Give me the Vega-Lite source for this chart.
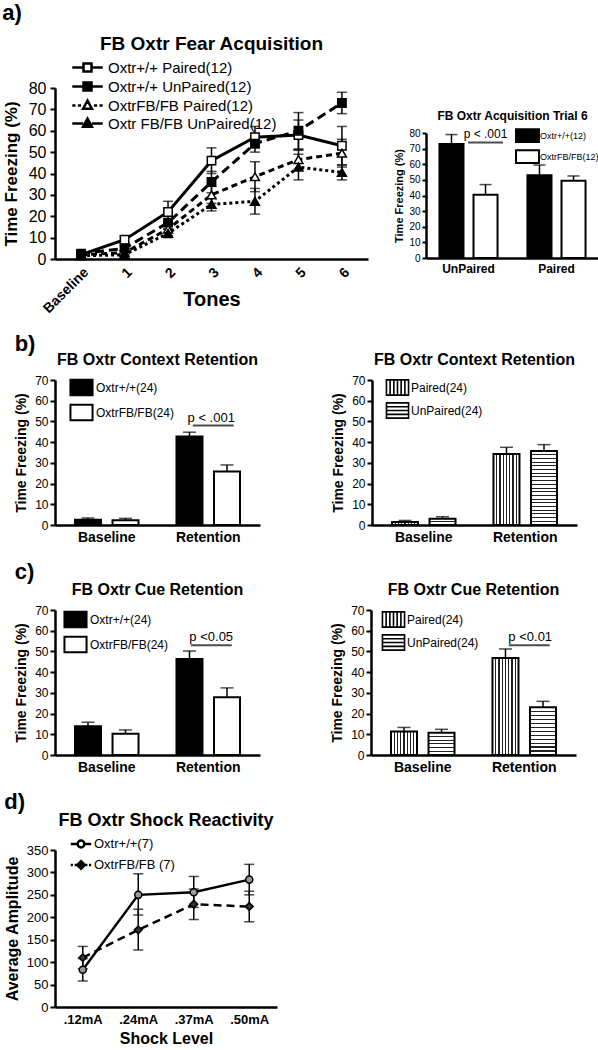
{
"$schema": "https://vega.github.io/schema/vega-lite/v6.json",
"padding": {"left": 2, "top": 2, "right": 0, "bottom": 0},
"background": "white",
"params": [
 {"name": "gV8", "value": {"gradient":"linear","x1":0,"y1":0,"x2":1,"y2":0,"stops":[{"offset":0,"color":"#fff"},{"offset":0.103,"color":"#fff"},{"offset":0.103,"color":"#222"},{"offset":0.147,"color":"#222"},{"offset":0.147,"color":"#fff"},{"offset":0.228,"color":"#fff"},{"offset":0.228,"color":"#222"},{"offset":0.272,"color":"#222"},{"offset":0.272,"color":"#fff"},{"offset":0.353,"color":"#fff"},{"offset":0.353,"color":"#222"},{"offset":0.397,"color":"#222"},{"offset":0.397,"color":"#fff"},{"offset":0.478,"color":"#fff"},{"offset":0.478,"color":"#222"},{"offset":0.522,"color":"#222"},{"offset":0.522,"color":"#fff"},{"offset":0.603,"color":"#fff"},{"offset":0.603,"color":"#222"},{"offset":0.647,"color":"#222"},{"offset":0.647,"color":"#fff"},{"offset":0.728,"color":"#fff"},{"offset":0.728,"color":"#222"},{"offset":0.772,"color":"#222"},{"offset":0.772,"color":"#fff"},{"offset":0.853,"color":"#fff"},{"offset":0.853,"color":"#222"},{"offset":0.897,"color":"#222"},{"offset":0.897,"color":"#fff"},{"offset":1,"color":"#fff"}]}},
 {"name": "gH20", "value": {"gradient":"linear","x1":0,"y1":0,"x2":0,"y2":1,"stops":[{"offset":0,"color":"#fff"},{"offset":0.043,"color":"#fff"},{"offset":0.043,"color":"#222"},{"offset":0.057,"color":"#222"},{"offset":0.057,"color":"#fff"},{"offset":0.093,"color":"#fff"},{"offset":0.093,"color":"#222"},{"offset":0.107,"color":"#222"},{"offset":0.107,"color":"#fff"},{"offset":0.143,"color":"#fff"},{"offset":0.143,"color":"#222"},{"offset":0.157,"color":"#222"},{"offset":0.157,"color":"#fff"},{"offset":0.193,"color":"#fff"},{"offset":0.193,"color":"#222"},{"offset":0.207,"color":"#222"},{"offset":0.207,"color":"#fff"},{"offset":0.243,"color":"#fff"},{"offset":0.243,"color":"#222"},{"offset":0.257,"color":"#222"},{"offset":0.257,"color":"#fff"},{"offset":0.293,"color":"#fff"},{"offset":0.293,"color":"#222"},{"offset":0.307,"color":"#222"},{"offset":0.307,"color":"#fff"},{"offset":0.343,"color":"#fff"},{"offset":0.343,"color":"#222"},{"offset":0.357,"color":"#222"},{"offset":0.357,"color":"#fff"},{"offset":0.393,"color":"#fff"},{"offset":0.393,"color":"#222"},{"offset":0.407,"color":"#222"},{"offset":0.407,"color":"#fff"},{"offset":0.443,"color":"#fff"},{"offset":0.443,"color":"#222"},{"offset":0.457,"color":"#222"},{"offset":0.457,"color":"#fff"},{"offset":0.493,"color":"#fff"},{"offset":0.493,"color":"#222"},{"offset":0.507,"color":"#222"},{"offset":0.507,"color":"#fff"},{"offset":0.543,"color":"#fff"},{"offset":0.543,"color":"#222"},{"offset":0.557,"color":"#222"},{"offset":0.557,"color":"#fff"},{"offset":0.593,"color":"#fff"},{"offset":0.593,"color":"#222"},{"offset":0.607,"color":"#222"},{"offset":0.607,"color":"#fff"},{"offset":0.643,"color":"#fff"},{"offset":0.643,"color":"#222"},{"offset":0.657,"color":"#222"},{"offset":0.657,"color":"#fff"},{"offset":0.693,"color":"#fff"},{"offset":0.693,"color":"#222"},{"offset":0.707,"color":"#222"},{"offset":0.707,"color":"#fff"},{"offset":0.743,"color":"#fff"},{"offset":0.743,"color":"#222"},{"offset":0.757,"color":"#222"},{"offset":0.757,"color":"#fff"},{"offset":0.793,"color":"#fff"},{"offset":0.793,"color":"#222"},{"offset":0.807,"color":"#222"},{"offset":0.807,"color":"#fff"},{"offset":0.843,"color":"#fff"},{"offset":0.843,"color":"#222"},{"offset":0.857,"color":"#222"},{"offset":0.857,"color":"#fff"},{"offset":0.893,"color":"#fff"},{"offset":0.893,"color":"#222"},{"offset":0.907,"color":"#222"},{"offset":0.907,"color":"#fff"},{"offset":0.943,"color":"#fff"},{"offset":0.943,"color":"#222"},{"offset":0.957,"color":"#222"},{"offset":0.957,"color":"#fff"},{"offset":1,"color":"#fff"}]}},
 {"name": "gH12", "value": {"gradient":"linear","x1":0,"y1":0,"x2":0,"y2":1,"stops":[{"offset":0,"color":"#fff"},{"offset":0.071,"color":"#fff"},{"offset":0.071,"color":"#222"},{"offset":0.095,"color":"#222"},{"offset":0.095,"color":"#fff"},{"offset":0.155,"color":"#fff"},{"offset":0.155,"color":"#222"},{"offset":0.179,"color":"#222"},{"offset":0.179,"color":"#fff"},{"offset":0.238,"color":"#fff"},{"offset":0.238,"color":"#222"},{"offset":0.262,"color":"#222"},{"offset":0.262,"color":"#fff"},{"offset":0.321,"color":"#fff"},{"offset":0.321,"color":"#222"},{"offset":0.345,"color":"#222"},{"offset":0.345,"color":"#fff"},{"offset":0.405,"color":"#fff"},{"offset":0.405,"color":"#222"},{"offset":0.429,"color":"#222"},{"offset":0.429,"color":"#fff"},{"offset":0.488,"color":"#fff"},{"offset":0.488,"color":"#222"},{"offset":0.512,"color":"#222"},{"offset":0.512,"color":"#fff"},{"offset":0.571,"color":"#fff"},{"offset":0.571,"color":"#222"},{"offset":0.595,"color":"#222"},{"offset":0.595,"color":"#fff"},{"offset":0.655,"color":"#fff"},{"offset":0.655,"color":"#222"},{"offset":0.679,"color":"#222"},{"offset":0.679,"color":"#fff"},{"offset":0.738,"color":"#fff"},{"offset":0.738,"color":"#222"},{"offset":0.762,"color":"#222"},{"offset":0.762,"color":"#fff"},{"offset":0.821,"color":"#fff"},{"offset":0.821,"color":"#222"},{"offset":0.845,"color":"#222"},{"offset":0.845,"color":"#fff"},{"offset":0.905,"color":"#fff"},{"offset":0.905,"color":"#222"},{"offset":0.929,"color":"#222"},{"offset":0.929,"color":"#fff"},{"offset":1,"color":"#fff"}]}},
 {"name": "gH6", "value": {"gradient":"linear","x1":0,"y1":0,"x2":0,"y2":1,"stops":[{"offset":0,"color":"#fff"},{"offset":0.142,"color":"#fff"},{"offset":0.142,"color":"#222"},{"offset":0.192,"color":"#222"},{"offset":0.192,"color":"#fff"},{"offset":0.308,"color":"#fff"},{"offset":0.308,"color":"#222"},{"offset":0.358,"color":"#222"},{"offset":0.358,"color":"#fff"},{"offset":0.475,"color":"#fff"},{"offset":0.475,"color":"#222"},{"offset":0.525,"color":"#222"},{"offset":0.525,"color":"#fff"},{"offset":0.642,"color":"#fff"},{"offset":0.642,"color":"#222"},{"offset":0.692,"color":"#222"},{"offset":0.692,"color":"#fff"},{"offset":0.808,"color":"#fff"},{"offset":0.808,"color":"#222"},{"offset":0.858,"color":"#222"},{"offset":0.858,"color":"#fff"},{"offset":1,"color":"#fff"}]}},
 {"name": "gH2", "value": {"gradient":"linear","x1":0,"y1":0,"x2":0,"y2":1,"stops":[{"offset":0,"color":"#fff"},{"offset":0.41,"color":"#fff"},{"offset":0.41,"color":"#222"},{"offset":0.59,"color":"#222"},{"offset":0.59,"color":"#fff"},{"offset":1,"color":"#fff"}]}}
],
"config": {
 "font": "Liberation Sans",
 "view": {"stroke": null},
 "axis": {"domainColor": "black", "domainWidth": 2.5, "tickColor": "black", "tickWidth": 2, "tickSize": 5, "labelColor": "black", "titleColor": "black", "grid": false, "labelFont": "Liberation Sans", "titleFont": "Liberation Sans", "titleFontWeight": "bold", "labelOverlap": false},
 "title": {"font": "Liberation Sans", "fontWeight": "bold", "color": "black", "anchor": "middle"},
 "legend": {"labelFont": "Liberation Sans", "labelColor": "black"}
},
"resolve": {"scale": {"fill": "independent", "shape": "independent", "strokeDash": "independent", "xOffset": "independent"}},
"spacing": 17,
"vconcat": [
 {
  "title": {"text": "a)", "anchor": "start", "frame": "bounds", "fontSize": 22, "offset": 10},
  "spacing": 25,
  "resolve": {"scale": {"fill": "independent", "shape": "independent", "strokeDash": "independent", "xOffset": "independent"}},
  "hconcat": [
   {
    "width": 313, "height": 171,
    "title": {"text": "FB Oxtr Fear Acquisition", "fontSize": 19, "frame": "group", "offset": 4},
    "data": {"values": [
     {"g":"Oxtr+/+ Paired(12)","t":"Baseline","m":2,"lo":1,"hi":3},
     {"g":"Oxtr+/+ Paired(12)","t":"1","m":9,"lo":7.5,"hi":10.5},
     {"g":"Oxtr+/+ Paired(12)","t":"2","m":22,"lo":17,"hi":27},
     {"g":"Oxtr+/+ Paired(12)","t":"3","m":46,"lo":40,"hi":52},
     {"g":"Oxtr+/+ Paired(12)","t":"4","m":57,"lo":52,"hi":62},
     {"g":"Oxtr+/+ Paired(12)","t":"5","m":58,"lo":51,"hi":65},
     {"g":"Oxtr+/+ Paired(12)","t":"6","m":53,"lo":44,"hi":62},
     {"g":"Oxtr+/+ UnPaired(12)","t":"Baseline","m":2.5,"lo":1.5,"hi":3.5},
     {"g":"Oxtr+/+ UnPaired(12)","t":"1","m":5,"lo":4,"hi":6},
     {"g":"Oxtr+/+ UnPaired(12)","t":"2","m":17,"lo":14,"hi":20},
     {"g":"Oxtr+/+ UnPaired(12)","t":"3","m":36,"lo":31,"hi":41},
     {"g":"Oxtr+/+ UnPaired(12)","t":"4","m":54,"lo":50,"hi":58},
     {"g":"Oxtr+/+ UnPaired(12)","t":"5","m":60,"lo":51.5,"hi":68.5},
     {"g":"Oxtr+/+ UnPaired(12)","t":"6","m":73,"lo":68,"hi":78},
     {"g":"OxtrFB/FB Paired(12)","t":"Baseline","m":2,"lo":1.5,"hi":2.5},
     {"g":"OxtrFB/FB Paired(12)","t":"1","m":3,"lo":2,"hi":4},
     {"g":"OxtrFB/FB Paired(12)","t":"2","m":14,"lo":11,"hi":17},
     {"g":"OxtrFB/FB Paired(12)","t":"3","m":30,"lo":26,"hi":34},
     {"g":"OxtrFB/FB Paired(12)","t":"4","m":38.5,"lo":31.5,"hi":45.5},
     {"g":"OxtrFB/FB Paired(12)","t":"5","m":46.5,"lo":42,"hi":51},
     {"g":"OxtrFB/FB Paired(12)","t":"6","m":49.5,"lo":43,"hi":56},
     {"g":"Oxtr FB/FB UnPaired(12)","t":"Baseline","m":1.5,"lo":1,"hi":2},
     {"g":"Oxtr FB/FB UnPaired(12)","t":"1","m":2,"lo":1,"hi":3},
     {"g":"Oxtr FB/FB UnPaired(12)","t":"2","m":12,"lo":10,"hi":14},
     {"g":"Oxtr FB/FB UnPaired(12)","t":"3","m":25.5,"lo":22.5,"hi":28.5},
     {"g":"Oxtr FB/FB UnPaired(12)","t":"4","m":27,"lo":21,"hi":33},
     {"g":"Oxtr FB/FB UnPaired(12)","t":"5","m":43,"lo":37,"hi":49},
     {"g":"Oxtr FB/FB UnPaired(12)","t":"6","m":40.5,"lo":37,"hi":44}
    ]},
    "encoding": {
     "x": {"field": "t", "type": "ordinal", "sort": ["Baseline","1","2","3","4","5","6"], "scale": {"type": "point", "padding": 0.6},
       "axis": {"title": "Tones", "labelAngle": -45, "labelFontSize": 14, "labelFontWeight": "bold", "titleFontSize": 20, "ticks": false, "labelPadding": 6, "titleY": 30, "titleBaseline": "top"}}
    },
    "layer": [
     {"transform": [{"filter": "datum.g === 'Oxtr+/+ Paired(12)'"}],
      "mark": {"type": "line", "strokeWidth": 3, "color": "black"},
      "encoding": {"y": {"field": "m", "type": "quantitative", "scale": {"domain": [0, 80]}, "axis": {"title": "Time Freezing (%)", "titleFontSize": 17, "labelFontSize": 16, "values": [0,10,20,30,40,50,60,70,80], "titlePadding": 8, "labelPadding": 4}}}},
     {"transform": [{"filter": "datum.g === 'Oxtr+/+ UnPaired(12)'"}],
      "mark": {"type": "line", "strokeWidth": 3, "color": "black", "strokeDash": [9,5]},
      "encoding": {"y": {"field": "m", "type": "quantitative", "axis": {"title": "Time Freezing (%)", "titleFontSize": 17, "labelFontSize": 16, "values": [0,10,20,30,40,50,60,70,80], "titlePadding": 8, "labelPadding": 4}}}},
     {"transform": [{"filter": "datum.g === 'OxtrFB/FB Paired(12)'"}],
      "mark": {"type": "line", "strokeWidth": 3, "color": "black", "strokeDash": [6,4]},
      "encoding": {"y": {"field": "m", "type": "quantitative", "axis": {"title": "Time Freezing (%)", "titleFontSize": 17, "labelFontSize": 16, "values": [0,10,20,30,40,50,60,70,80], "titlePadding": 8, "labelPadding": 4}}}},
     {"transform": [{"filter": "datum.g === 'Oxtr FB/FB UnPaired(12)'"}],
      "mark": {"type": "line", "strokeWidth": 3, "color": "black", "strokeDash": [3,3]},
      "encoding": {"y": {"field": "m", "type": "quantitative", "axis": {"title": "Time Freezing (%)", "titleFontSize": 17, "labelFontSize": 16, "values": [0,10,20,30,40,50,60,70,80], "titlePadding": 8, "labelPadding": 4}}}},
     {"mark": {"type": "rule", "strokeWidth": 1.5, "color": "black"},
      "encoding": {"y": {"field": "lo", "type": "quantitative", "axis": {"title": "Time Freezing (%)", "titleFontSize": 17, "labelFontSize": 16, "values": [0,10,20,30,40,50,60,70,80], "titlePadding": 8, "labelPadding": 4}}, "y2": {"field": "hi"}, "detail": {"field": "g"}}},
     {"mark": {"type": "tick", "orient": "horizontal", "size": 10, "thickness": 1.5, "color": "black"},
      "encoding": {"y": {"field": "lo", "type": "quantitative", "axis": {"title": "Time Freezing (%)", "titleFontSize": 17, "labelFontSize": 16, "values": [0,10,20,30,40,50,60,70,80], "titlePadding": 8, "labelPadding": 4}}}},
     {"mark": {"type": "tick", "orient": "horizontal", "size": 10, "thickness": 1.5, "color": "black"},
      "encoding": {"y": {"field": "hi", "type": "quantitative", "axis": {"title": "Time Freezing (%)", "titleFontSize": 17, "labelFontSize": 16, "values": [0,10,20,30,40,50,60,70,80], "titlePadding": 8, "labelPadding": 4}}}},
     {"transform": [{"filter": "datum.g === 'Oxtr+/+ Paired(12)'"}],
      "mark": {"type": "point", "shape": "square", "filled": true, "fill": "white", "stroke": "black", "strokeWidth": 1.5, "size": 70, "opacity": 1},
      "encoding": {"y": {"field": "m", "type": "quantitative", "axis": {"title": "Time Freezing (%)", "titleFontSize": 17, "labelFontSize": 16, "values": [0,10,20,30,40,50,60,70,80], "titlePadding": 8, "labelPadding": 4}}}},
     {"transform": [{"filter": "datum.g === 'Oxtr+/+ UnPaired(12)'"}],
      "mark": {"type": "point", "shape": "square", "filled": true, "fill": "black", "stroke": "black", "strokeWidth": 1.5, "size": 70, "opacity": 1},
      "encoding": {"y": {"field": "m", "type": "quantitative", "axis": {"title": "Time Freezing (%)", "titleFontSize": 17, "labelFontSize": 16, "values": [0,10,20,30,40,50,60,70,80], "titlePadding": 8, "labelPadding": 4}}}},
     {"transform": [{"filter": "datum.g === 'OxtrFB/FB Paired(12)'"}],
      "mark": {"type": "point", "shape": "triangle-up", "filled": true, "fill": "white", "stroke": "black", "strokeWidth": 1.5, "size": 80, "opacity": 1},
      "encoding": {"y": {"field": "m", "type": "quantitative", "axis": {"title": "Time Freezing (%)", "titleFontSize": 17, "labelFontSize": 16, "values": [0,10,20,30,40,50,60,70,80], "titlePadding": 8, "labelPadding": 4}}}},
     {"transform": [{"filter": "datum.g === 'Oxtr FB/FB UnPaired(12)'"}],
      "mark": {"type": "point", "shape": "triangle-up", "filled": true, "fill": "black", "stroke": "black", "strokeWidth": 1.5, "size": 80, "opacity": 1},
      "encoding": {"y": {"field": "m", "type": "quantitative", "axis": {"title": "Time Freezing (%)", "titleFontSize": 17, "labelFontSize": 16, "values": [0,10,20,30,40,50,60,70,80], "titlePadding": 8, "labelPadding": 4}}}},
     {"mark": {"type": "point", "size": 10, "opacity": 0},
      "encoding": {
       "y": {"field": "m", "type": "quantitative", "axis": {"title": "Time Freezing (%)", "titleFontSize": 17, "labelFontSize": 16, "values": [0,10,20,30,40,50,60,70,80], "titlePadding": 8, "labelPadding": 4}},
       "shape": {"field": "g", "type": "nominal", "scale": {"domain": ["Oxtr+/+ Paired(12)","Oxtr+/+ UnPaired(12)","OxtrFB/FB Paired(12)","Oxtr FB/FB UnPaired(12)"], "range": ["M-1.9,0H-0.5M0.5,0H1.9M-0.5,-0.5H0.5V0.5H-0.5Z","M-1.9,0H-0.5M0.5,0H1.9M-0.5,-0.5H0.5V0.5H-0.5ZM-0.5,-0.25H0.5M-0.5,0H0.5M-0.5,0.25H0.5","M-1.9,0H-1.5M-1.2,0H-0.8M0.8,0H1.2M1.5,0H1.9M0,-0.6L0.55,0.4H-0.55Z","M-1.9,0H-0.55M0.55,0H1.9M0,-0.6L0.55,0.4H-0.55ZM-0.165,-0.3H0.165M-0.3,-0.05H0.3M-0.44,0.2H0.44"]},
        "legend": {"title": null, "orient": "none", "legendX": 23, "legendY": -30, "labelFontSize": 15, "labelLimit": 320, "symbolSize": 256, "symbolStrokeWidth": 2.5, "symbolStrokeColor": "black", "symbolFillColor": "white", "symbolOpacity": 1, "labelOffset": 11, "rowPadding": -3}}
      }}
    ]
   },
   {
    "spacing": 0,
    "resolve": {"scale": {"fill": "independent", "shape": "independent", "strokeDash": "independent", "xOffset": "independent"}},
    "vconcat": [
     {"width": 173, "height": 22, "data": {"values": [{}]}, "mark": {"type": "text", "text": ""}, "encoding": {}},
     {
      "width": 173, "height": 125,
      "title": {"text": "FB  Oxtr Acquisition Trial 6", "fontSize": 12, "offset": 3},
      "data": {"values": [
       {"c":"UnPaired","g":"Oxtr+/+(12)","m":73,"hi":79},
       {"c":"UnPaired","g":"OxtrFB/FB(12)","m":40.5,"hi":47},
       {"c":"Paired","g":"Oxtr+/+(12)","m":53,"hi":59.5},
       {"c":"Paired","g":"OxtrFB/FB(12)","m":49.5,"hi":52.5}
      ]},
      "encoding": {
       "x": {"field": "c", "type": "nominal", "sort": ["UnPaired","Paired"], "scale": {"paddingInner": 0.34, "paddingOuter": 0.153},
        "axis": {"title": null, "labelAngle": 0, "ticks": false, "labelFontSize": 12, "labelFontWeight": "bold", "labelPadding": 5}},
       "xOffset": {"field": "g", "type": "nominal", "sort": ["Oxtr+/+(12)","OxtrFB/FB(12)"], "scale": {"paddingInner": 0.294, "paddingOuter": 0}}
      },
      "layer": [
       {"mark": {"type": "bar", "stroke": "black", "strokeWidth": 2},
        "encoding": {
         "y": {"field": "m", "type": "quantitative", "scale": {"domain": [0, 80]}, "axis": {"title": "Time Freezing (%)", "titleFontSize": 11, "labelFontSize": 10, "values": [0,10,20,30,40,50,60,70,80], "tickSize": 4, "titlePadding": 4, "labelPadding": 2}},
         "fill": {"field": "g", "type": "nominal", "sort": ["Oxtr+/+(12)","OxtrFB/FB(12)"], "scale": {"range": ["black","white"]},
          "legend": {"title": null, "orient": "none", "legendX": 92, "legendY": -7, "labelFontSize": 9, "symbolSize": 289, "symbolType": "M-1.35,-0.75H1.35V0.75H-1.35Z", "symbolStrokeColor": "black", "symbolStrokeWidth": 2, "labelOffset": 3, "rowPadding": 0}}
        }},
       {"mark": {"type": "rule", "strokeWidth": 1.5, "color": "black"},
        "encoding": {"y": {"field": "m", "type": "quantitative", "axis": {"title": "Time Freezing (%)", "titleFontSize": 11, "labelFontSize": 10, "values": [0,10,20,30,40,50,60,70,80], "tickSize": 4, "titlePadding": 4, "labelPadding": 2}}, "y2": {"field": "hi"}}},
       {"mark": {"type": "tick", "orient": "horizontal", "size": 12, "thickness": 1.5, "color": "black"},
        "encoding": {"y": {"field": "hi", "type": "quantitative", "axis": {"title": "Time Freezing (%)", "titleFontSize": 11, "labelFontSize": 10, "values": [0,10,20,30,40,50,60,70,80], "tickSize": 4, "titlePadding": 4, "labelPadding": 2}}}},
       {"data": {"values": [{"c":"UnPaired","g":"OxtrFB/FB(12)","y":74,"label":"p < .001"}]},
        "layer": [
         {"mark": {"type": "tick", "orient": "horizontal", "size": 35, "thickness": 2, "color": "black"},
          "encoding": {"y": {"field": "y", "type": "quantitative", "axis": {"title": "Time Freezing (%)", "titleFontSize": 11, "labelFontSize": 10, "values": [0,10,20,30,40,50,60,70,80], "tickSize": 4, "titlePadding": 4, "labelPadding": 2}}}},
         {"mark": {"type": "text", "fontSize": 12, "baseline": "bottom", "dy": -1, "color": "black"},
          "encoding": {"y": {"field": "y", "type": "quantitative", "axis": {"title": "Time Freezing (%)", "titleFontSize": 11, "labelFontSize": 10, "values": [0,10,20,30,40,50,60,70,80], "tickSize": 4, "titlePadding": 4, "labelPadding": 2}}, "text": {"field": "label"}}}
        ]}
      ]
     }
    ]
   }
  ]
 },
 {
  "title": {"text": "b)", "anchor": "start", "frame": "bounds", "fontSize": 22, "offset": -4},
  "spacing": 70,
  "resolve": {"scale": {"fill": "independent", "shape": "independent", "strokeDash": "independent", "xOffset": "independent"}},
  "hconcat": [
   {
    "width": 205, "height": 145,
    "title": {"text": "FB  Oxtr Context Retention", "fontSize": 16, "offset": 6},
    "data": {"values": [
     {"c":"Baseline","g":"Oxtr+/+(24)","m":2.5,"hi":3.4},
     {"c":"Baseline","g":"OxtrFB/FB(24)","m":2.3,"hi":3.2},
     {"c":"Retention","g":"Oxtr+/+(24)","m":42.7,"hi":44.8},
     {"c":"Retention","g":"OxtrFB/FB(24)","m":25.8,"hi":29}
    ]},
    "encoding": {
     "x": {"field": "c", "type": "nominal", "sort": ["Baseline","Retention"], "scale": {"paddingInner": 0.374, "paddingOuter": 0.197},
      "axis": {"title": null, "labelAngle": 0, "ticks": false, "labelFontSize": 14, "labelFontWeight": "bold", "labelPadding": 5}}
    },
    "layer": [
     {"mark": {"type": "bar", "stroke": "black", "strokeWidth": 2},
      "encoding": {
       "xOffset": {"field": "g", "type": "nominal", "sort": ["Oxtr+/+(24)","OxtrFB/FB(24)"], "scale": {"paddingInner": 0.307, "paddingOuter": 0}},
       "y": {"field": "m", "type": "quantitative", "scale": {"domain": [0, 70]}, "axis": {"title": "Time Freezing (%)", "titleFontSize": 14, "labelFontSize": 12, "values": [0,10,20,30,40,50,60,70], "titlePadding": 6, "labelPadding": 2}},
       "fill": {"field": "g", "type": "nominal", "sort": ["Oxtr+/+(24)","OxtrFB/FB(24)"], "scale": {"range": ["black","white"]},
        "legend": {"title": null, "orient": "none", "legendX": 17, "legendY": -2, "labelFontSize": 12, "symbolSize": 289, "symbolType": "M-1.3,-0.9H1.3V0.9H-1.3Z", "symbolStrokeColor": "black", "symbolStrokeWidth": 2, "labelOffset": 5, "rowPadding": 0}}
      }},
     {"mark": {"type": "rule", "strokeWidth": 1.5, "color": "black"},
      "encoding": {"xOffset": {"field": "g", "type": "nominal"}, "y": {"field": "m", "type": "quantitative", "axis": {"title": "Time Freezing (%)", "titleFontSize": 14, "labelFontSize": 12, "values": [0,10,20,30,40,50,60,70], "titlePadding": 6, "labelPadding": 2}}, "y2": {"field": "hi"}}},
     {"mark": {"type": "tick", "orient": "horizontal", "size": 13, "thickness": 1.5, "color": "black"},
      "encoding": {"xOffset": {"field": "g", "type": "nominal"}, "y": {"field": "hi", "type": "quantitative", "axis": {"title": "Time Freezing (%)", "titleFontSize": 14, "labelFontSize": 12, "values": [0,10,20,30,40,50,60,70], "titlePadding": 6, "labelPadding": 2}}}},
     {"data": {"values": [{"c":"Retention","y":48,"label":"p < .001"}]},
      "layer": [
       {"mark": {"type": "tick", "orient": "horizontal", "size": 41, "thickness": 2, "color": "black", "xOffset": 5},
        "encoding": {"y": {"field": "y", "type": "quantitative", "axis": {"title": "Time Freezing (%)", "titleFontSize": 14, "labelFontSize": 12, "values": [0,10,20,30,40,50,60,70], "titlePadding": 6, "labelPadding": 2}}}},
       {"mark": {"type": "text", "fontSize": 13, "baseline": "bottom", "dy": -1, "xOffset": 3, "color": "black"},
        "encoding": {"y": {"field": "y", "type": "quantitative", "axis": {"title": "Time Freezing (%)", "titleFontSize": 14, "labelFontSize": 12, "values": [0,10,20,30,40,50,60,70], "titlePadding": 6, "labelPadding": 2}}, "text": {"field": "label"}}}
      ]}
    ]
   },
   {
    "width": 205, "height": 145,
    "title": {"text": "FB  Oxtr Context Retention", "fontSize": 16, "offset": 6},
    "data": {"values": [
     {"c":"Baseline","g":"Paired(24)","m":1.5,"hi":2.2},
     {"c":"Baseline","g":"UnPaired(24)","m":3,"hi":4},
     {"c":"Retention","g":"Paired(24)","m":34.3,"hi":37.5},
     {"c":"Retention","g":"UnPaired(24)","m":35.7,"hi":38.8}
    ]},
    "encoding": {
     "x": {"field": "c", "type": "nominal", "sort": ["Baseline","Retention"], "scale": {"paddingInner": 0.374, "paddingOuter": 0.197},
      "axis": {"title": null, "labelAngle": 0, "ticks": false, "labelFontSize": 14, "labelFontWeight": "bold", "labelPadding": 5}},
     "xOffset": {"field": "g", "type": "nominal", "sort": ["Paired(24)","UnPaired(24)"], "scale": {"paddingInner": 0.307, "paddingOuter": 0}}
    },
    "layer": [
     {"mark": {"type": "bar", "stroke": "black", "strokeWidth": 2, "fill": {"expr": "datum.g === 'Paired(24)' ? gV8 : (datum.m > 30 ? gH20 : (datum.m > 15 ? gH12 : (datum.m > 8 ? gH6 : gH2)))"}},
      "encoding": {"y": {"field": "m", "type": "quantitative", "scale": {"domain": [0, 70]}, "axis": {"title": "Time Freezing (%)", "titleFontSize": 14, "labelFontSize": 12, "values": [0,10,20,30,40,50,60,70], "titlePadding": 6, "labelPadding": 2}}}},
     {"mark": {"type": "rule", "strokeWidth": 1.5, "color": "black"},
      "encoding": {"y": {"field": "m", "type": "quantitative", "axis": {"title": "Time Freezing (%)", "titleFontSize": 14, "labelFontSize": 12, "values": [0,10,20,30,40,50,60,70], "titlePadding": 6, "labelPadding": 2}}, "y2": {"field": "hi"}}},
     {"mark": {"type": "tick", "orient": "horizontal", "size": 13, "thickness": 1.5, "color": "black"},
      "encoding": {"y": {"field": "hi", "type": "quantitative", "axis": {"title": "Time Freezing (%)", "titleFontSize": 14, "labelFontSize": 12, "values": [0,10,20,30,40,50,60,70], "titlePadding": 6, "labelPadding": 2}}}},
     {"mark": {"type": "point", "size": 10, "opacity": 0},
      "encoding": {"y": {"field": "m", "type": "quantitative", "axis": {"title": "Time Freezing (%)", "titleFontSize": 14, "labelFontSize": 12, "values": [0,10,20,30,40,50,60,70], "titlePadding": 6, "labelPadding": 2}},
       "shape": {"field": "g", "type": "nominal", "scale": {"domain": ["Paired(24)","UnPaired(24)"], "range": ["M-1.3,-0.9H1.3V0.9H-1.3ZM-0.87,-0.9V0.9M-0.43,-0.9V0.9M0,-0.9V0.9M0.43,-0.9V0.9M0.87,-0.9V0.9","M-1.3,-0.9H1.3V0.9H-1.3ZM-1.3,-0.45H1.3M-1.3,0H1.3M-1.3,0.45H1.3"]},
        "legend": {"title": null, "orient": "none", "legendX": 16, "legendY": -2, "labelFontSize": 12, "symbolSize": 289, "symbolFillColor": "white", "symbolStrokeColor": "black", "symbolStrokeWidth": 1.6, "symbolOpacity": 1, "labelOffset": 4, "rowPadding": 0}}
      }}
    ]
   }
  ]
 },
 {
  "title": {"text": "c)", "anchor": "start", "frame": "bounds", "fontSize": 22, "offset": -2},
  "spacing": 70,
  "resolve": {"scale": {"fill": "independent", "shape": "independent", "strokeDash": "independent", "xOffset": "independent"}},
  "hconcat": [
   {
    "width": 205, "height": 145,
    "title": {"text": "FB  Oxtr  Cue Retention", "fontSize": 16, "offset": 6},
    "data": {"values": [
     {"c":"Baseline","g":"Oxtr+/+(24)","m":13.9,"hi":15.8},
     {"c":"Baseline","g":"OxtrFB/FB(24)","m":10.2,"hi":12.1},
     {"c":"Retention","g":"Oxtr+/+(24)","m":46.3,"hi":50.2},
     {"c":"Retention","g":"OxtrFB/FB(24)","m":27.9,"hi":32.4}
    ]},
    "encoding": {
     "x": {"field": "c", "type": "nominal", "sort": ["Baseline","Retention"], "scale": {"paddingInner": 0.374, "paddingOuter": 0.197},
      "axis": {"title": null, "labelAngle": 0, "ticks": false, "labelFontSize": 14, "labelFontWeight": "bold", "labelPadding": 5}}
    },
    "layer": [
     {"mark": {"type": "bar", "stroke": "black", "strokeWidth": 2},
      "encoding": {
       "xOffset": {"field": "g", "type": "nominal", "sort": ["Oxtr+/+(24)","OxtrFB/FB(24)"], "scale": {"paddingInner": 0.307, "paddingOuter": 0}},
       "y": {"field": "m", "type": "quantitative", "scale": {"domain": [0, 70]}, "axis": {"title": "Time Freezing (%)", "titleFontSize": 14, "labelFontSize": 12, "values": [0,10,20,30,40,50,60,70], "titlePadding": 6, "labelPadding": 2}},
       "fill": {"field": "g", "type": "nominal", "sort": ["Oxtr+/+(24)","OxtrFB/FB(24)"], "scale": {"range": ["black","white"]},
        "legend": {"title": null, "orient": "none", "legendX": 11, "legendY": 0, "labelFontSize": 12, "symbolSize": 289, "symbolType": "M-1.3,-0.9H1.3V0.9H-1.3Z", "symbolStrokeColor": "black", "symbolStrokeWidth": 2, "labelOffset": 5, "rowPadding": 0}}
      }},
     {"mark": {"type": "rule", "strokeWidth": 1.5, "color": "black"},
      "encoding": {"xOffset": {"field": "g", "type": "nominal"}, "y": {"field": "m", "type": "quantitative", "axis": {"title": "Time Freezing (%)", "titleFontSize": 14, "labelFontSize": 12, "values": [0,10,20,30,40,50,60,70], "titlePadding": 6, "labelPadding": 2}}, "y2": {"field": "hi"}}},
     {"mark": {"type": "tick", "orient": "horizontal", "size": 13, "thickness": 1.5, "color": "black"},
      "encoding": {"xOffset": {"field": "g", "type": "nominal"}, "y": {"field": "hi", "type": "quantitative", "axis": {"title": "Time Freezing (%)", "titleFontSize": 14, "labelFontSize": 12, "values": [0,10,20,30,40,50,60,70], "titlePadding": 6, "labelPadding": 2}}}},
     {"data": {"values": [{"c":"Retention","y":53,"label":"p <0.05"}]},
      "layer": [
       {"mark": {"type": "tick", "orient": "horizontal", "size": 41, "thickness": 2, "color": "black", "xOffset": 3},
        "encoding": {"y": {"field": "y", "type": "quantitative", "axis": {"title": "Time Freezing (%)", "titleFontSize": 14, "labelFontSize": 12, "values": [0,10,20,30,40,50,60,70], "titlePadding": 6, "labelPadding": 2}}}},
       {"mark": {"type": "text", "fontSize": 13, "baseline": "bottom", "dy": -1, "xOffset": 3, "color": "black"},
        "encoding": {"y": {"field": "y", "type": "quantitative", "axis": {"title": "Time Freezing (%)", "titleFontSize": 14, "labelFontSize": 12, "values": [0,10,20,30,40,50,60,70], "titlePadding": 6, "labelPadding": 2}}, "text": {"field": "label"}}}
      ]}
    ]
   },
   {
    "width": 205, "height": 145,
    "title": {"text": "FB  Oxtr  Cue Retention", "fontSize": 16, "offset": 6},
    "data": {"values": [
     {"c":"Baseline","g":"Paired(24)","m":11.3,"hi":13.3},
     {"c":"Baseline","g":"UnPaired(24)","m":10.8,"hi":12.4},
     {"c":"Retention","g":"Paired(24)","m":46.8,"hi":51.2},
     {"c":"Retention","g":"UnPaired(24)","m":23,"hi":25.9}
    ]},
    "encoding": {
     "x": {"field": "c", "type": "nominal", "sort": ["Baseline","Retention"], "scale": {"paddingInner": 0.374, "paddingOuter": 0.197},
      "axis": {"title": null, "labelAngle": 0, "ticks": false, "labelFontSize": 14, "labelFontWeight": "bold", "labelPadding": 5}}
    },
    "layer": [
     {"mark": {"type": "bar", "stroke": "black", "strokeWidth": 2, "fill": {"expr": "datum.g === 'Paired(24)' ? gV8 : (datum.m > 30 ? gH20 : (datum.m > 15 ? gH12 : (datum.m > 8 ? gH6 : gH2)))"}},
      "encoding": {
       "xOffset": {"field": "g", "type": "nominal", "sort": ["Paired(24)","UnPaired(24)"], "scale": {"paddingInner": 0.307, "paddingOuter": 0}},
       "y": {"field": "m", "type": "quantitative", "scale": {"domain": [0, 70]}, "axis": {"title": "Time Freezing (%)", "titleFontSize": 14, "labelFontSize": 12, "values": [0,10,20,30,40,50,60,70], "titlePadding": 6, "labelPadding": 2}}}},
     {"mark": {"type": "rule", "strokeWidth": 1.5, "color": "black"},
      "encoding": {"xOffset": {"field": "g", "type": "nominal"}, "y": {"field": "m", "type": "quantitative", "axis": {"title": "Time Freezing (%)", "titleFontSize": 14, "labelFontSize": 12, "values": [0,10,20,30,40,50,60,70], "titlePadding": 6, "labelPadding": 2}}, "y2": {"field": "hi"}}},
     {"mark": {"type": "tick", "orient": "horizontal", "size": 13, "thickness": 1.5, "color": "black"},
      "encoding": {"xOffset": {"field": "g", "type": "nominal"}, "y": {"field": "hi", "type": "quantitative", "axis": {"title": "Time Freezing (%)", "titleFontSize": 14, "labelFontSize": 12, "values": [0,10,20,30,40,50,60,70], "titlePadding": 6, "labelPadding": 2}}}},
     {"mark": {"type": "point", "size": 10, "opacity": 0},
      "encoding": {"xOffset": {"field": "g", "type": "nominal"}, "y": {"field": "m", "type": "quantitative", "axis": {"title": "Time Freezing (%)", "titleFontSize": 14, "labelFontSize": 12, "values": [0,10,20,30,40,50,60,70], "titlePadding": 6, "labelPadding": 2}},
       "shape": {"field": "g", "type": "nominal", "scale": {"domain": ["Paired(24)","UnPaired(24)"], "range": ["M-1.3,-0.9H1.3V0.9H-1.3ZM-0.87,-0.9V0.9M-0.43,-0.9V0.9M0,-0.9V0.9M0.43,-0.9V0.9M0.87,-0.9V0.9","M-1.3,-0.9H1.3V0.9H-1.3ZM-1.3,-0.45H1.3M-1.3,0H1.3M-1.3,0.45H1.3"]},
        "legend": {"title": null, "orient": "none", "legendX": 13, "legendY": 0, "labelFontSize": 12, "symbolSize": 289, "symbolFillColor": "white", "symbolStrokeColor": "black", "symbolStrokeWidth": 1.6, "symbolOpacity": 1, "labelOffset": 4, "rowPadding": 0}}
      }},
     {"data": {"values": [{"c":"Retention","y":53,"label":"p <0.01"}]},
      "layer": [
       {"mark": {"type": "tick", "orient": "horizontal", "size": 41, "thickness": 2, "color": "black", "xOffset": 5},
        "encoding": {"y": {"field": "y", "type": "quantitative", "axis": {"title": "Time Freezing (%)", "titleFontSize": 14, "labelFontSize": 12, "values": [0,10,20,30,40,50,60,70], "titlePadding": 6, "labelPadding": 2}}}},
       {"mark": {"type": "text", "fontSize": 13, "baseline": "bottom", "dy": -1, "xOffset": 6, "color": "black"},
        "encoding": {"y": {"field": "y", "type": "quantitative", "axis": {"title": "Time Freezing (%)", "titleFontSize": 14, "labelFontSize": 12, "values": [0,10,20,30,40,50,60,70], "titlePadding": 6, "labelPadding": 2}}, "text": {"field": "label"}}}
      ]}
    ]
   }
  ]
 },
 {
  "title": {"text": "d)", "anchor": "start", "frame": "bounds", "fontSize": 22, "offset": -2},
  "resolve": {"scale": {"fill": "independent", "shape": "independent", "strokeDash": "independent", "xOffset": "independent"}},
  "hconcat": [
   {
    "width": 222, "height": 157,
    "title": {"text": "FB  Oxtr Shock Reactivity", "fontSize": 18, "offset": 4},
    "data": {"values": [
     {"s":".12mA","g":"Oxtr+/+(7)","m":83,"lo":58,"hi":108},
     {"s":".24mA","g":"Oxtr+/+(7)","m":250,"lo":205,"hi":297},
     {"s":".37mA","g":"Oxtr+/+(7)","m":256,"lo":222,"hi":291},
     {"s":".50mA","g":"Oxtr+/+(7)","m":284,"lo":250,"hi":318},
     {"s":".12mA","g":"OxtrFB/FB (7)","m":110,"lo":85,"hi":135},
     {"s":".24mA","g":"OxtrFB/FB (7)","m":172,"lo":127,"hi":218},
     {"s":".37mA","g":"OxtrFB/FB (7)","m":229,"lo":195,"hi":263},
     {"s":".50mA","g":"OxtrFB/FB (7)","m":224,"lo":190,"hi":258}
    ]},
    "encoding": {
     "x": {"field": "s", "type": "ordinal", "sort": [".12mA",".24mA",".37mA",".50mA"], "scale": {"type": "point", "padding": 0.5},
      "axis": {"title": "Shock Level", "labelAngle": 0, "ticks": false, "labelFontSize": 13, "labelFontWeight": "bold", "titleFontSize": 16, "labelPadding": 6, "titlePadding": 4}}
    },
    "layer": [
     {"transform": [{"filter": "datum.g === 'Oxtr+/+(7)'"}],
      "mark": {"type": "line", "strokeWidth": 2.5, "color": "black"},
      "encoding": {"y": {"field": "m", "type": "quantitative", "scale": {"domain": [0, 350]}, "axis": {"title": "Average Amplitude", "titleFontSize": 16, "labelFontSize": 13, "values": [0,50,100,150,200,250,300,350], "titlePadding": 6, "labelPadding": 2}}}},
     {"transform": [{"filter": "datum.g === 'OxtrFB/FB (7)'"}],
      "mark": {"type": "line", "strokeWidth": 2.5, "color": "black", "strokeDash": [8,5]},
      "encoding": {"y": {"field": "m", "type": "quantitative", "axis": {"title": "Average Amplitude", "titleFontSize": 16, "labelFontSize": 13, "values": [0,50,100,150,200,250,300,350], "titlePadding": 6, "labelPadding": 2}}}},
     {"mark": {"type": "rule", "strokeWidth": 1.5, "color": "black"},
      "encoding": {"y": {"field": "lo", "type": "quantitative", "axis": {"title": "Average Amplitude", "titleFontSize": 16, "labelFontSize": 13, "values": [0,50,100,150,200,250,300,350], "titlePadding": 6, "labelPadding": 2}}, "y2": {"field": "hi"}, "detail": {"field": "g"}}},
     {"mark": {"type": "tick", "orient": "horizontal", "size": 10, "thickness": 1.5, "color": "black"},
      "encoding": {"y": {"field": "lo", "type": "quantitative", "axis": {"title": "Average Amplitude", "titleFontSize": 16, "labelFontSize": 13, "values": [0,50,100,150,200,250,300,350], "titlePadding": 6, "labelPadding": 2}}}},
     {"mark": {"type": "tick", "orient": "horizontal", "size": 10, "thickness": 1.5, "color": "black"},
      "encoding": {"y": {"field": "hi", "type": "quantitative", "axis": {"title": "Average Amplitude", "titleFontSize": 16, "labelFontSize": 13, "values": [0,50,100,150,200,250,300,350], "titlePadding": 6, "labelPadding": 2}}}},
     {"transform": [{"filter": "datum.g === 'Oxtr+/+(7)'"}],
      "mark": {"type": "point", "shape": "circle", "filled": true, "fill": "#9a9a9a", "stroke": "black", "strokeWidth": 1.5, "size": 50, "opacity": 1},
      "encoding": {"y": {"field": "m", "type": "quantitative", "axis": {"title": "Average Amplitude", "titleFontSize": 16, "labelFontSize": 13, "values": [0,50,100,150,200,250,300,350], "titlePadding": 6, "labelPadding": 2}}}},
     {"transform": [{"filter": "datum.g === 'OxtrFB/FB (7)'"}],
      "mark": {"type": "point", "shape": "diamond", "filled": true, "fill": "#333333", "stroke": "black", "strokeWidth": 1.5, "size": 60, "opacity": 1},
      "encoding": {"y": {"field": "m", "type": "quantitative", "axis": {"title": "Average Amplitude", "titleFontSize": 16, "labelFontSize": 13, "values": [0,50,100,150,200,250,300,350], "titlePadding": 6, "labelPadding": 2}}}},
     {"mark": {"type": "point", "size": 10, "opacity": 0},
      "encoding": {
       "y": {"field": "m", "type": "quantitative", "axis": {"title": "Average Amplitude", "titleFontSize": 16, "labelFontSize": 13, "values": [0,50,100,150,200,250,300,350], "titlePadding": 6, "labelPadding": 2}},
       "shape": {"field": "g", "type": "nominal", "scale": {"domain": ["Oxtr+/+(7)","OxtrFB/FB (7)"], "range": ["M-1.2,0H-0.4M0.4,0H1.2M-0.4,0A0.4,0.4 0 1,0 0.4,0A0.4,0.4 0 1,0 -0.4,0Z","M-1.2,0H-0.95M-0.75,0H-0.5M0.5,0H0.75M0.95,0H1.2M0,-0.45L0.45,0L0,0.45L-0.45,0ZM-0.22,-0.2H0.22M-0.4,0H0.4M-0.22,0.2H0.22"]},
        "legend": {"title": null, "orient": "none", "legendX": 16, "legendY": -16, "labelFontSize": 13, "symbolSize": 289, "symbolStrokeWidth": 2.5, "symbolStrokeColor": "black", "symbolFillColor": "#9a9a9a", "symbolOpacity": 1, "labelOffset": 3, "rowPadding": 2}}
      }}
    ]
   }
  ]
 }
]
}
